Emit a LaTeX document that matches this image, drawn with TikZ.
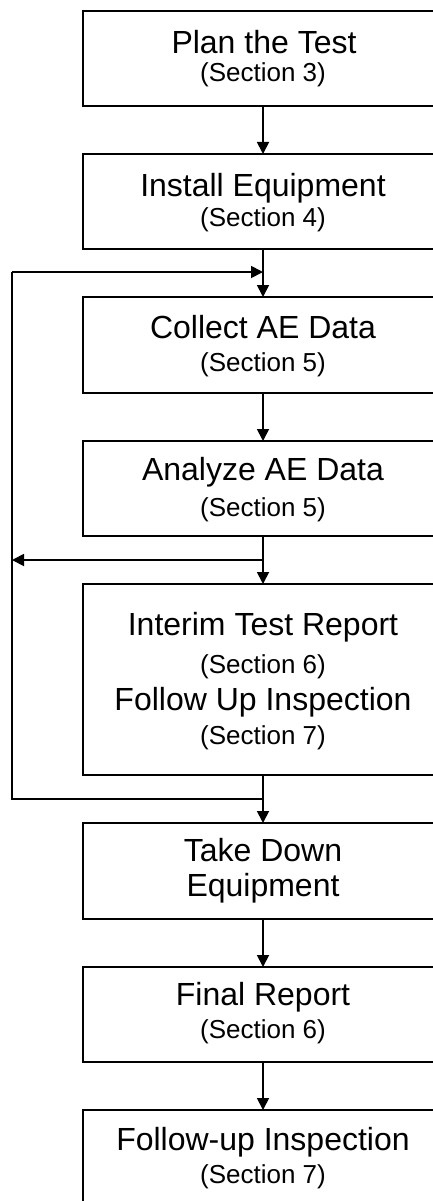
\documentclass[tikz,border=0pt]{standalone}
\usepackage{fontspec}
\setmainfont{Liberation Sans}
\usetikzlibrary{arrows.meta}
\begin{document}
\begin{tikzpicture}[x=1pt,y=-1pt,
  stepbox/.style={draw, line width=1.8pt, minimum width=360pt, inner sep=0pt, outer sep=0pt},
  maintext/.style={anchor=base, inner sep=0pt, font=\fontsize{32}{32}\selectfont},
  sectext/.style={anchor=base, inner sep=0pt, font=\fontsize{26}{26}\selectfont},
  flow/.style={line width=1.8pt, -{Triangle[length=12pt,width=12pt]}},
  loopline/.style={line width=1.8pt}]
\path[use as bounding box, fill=white] (0,0) rectangle (433,1201);
\clip (0,0) rectangle (433,1201);

% boxes
\node[stepbox, minimum height=95pt]  (b1) at (263,58.5) {};
\node[stepbox, minimum height=95pt]  (b2) at (263,201.5) {};
\node[stepbox, minimum height=96pt]  (b3) at (263,345) {};
\node[stepbox, minimum height=95pt]  (b4) at (263,488.5) {};
\node[stepbox, minimum height=191pt] (b5) at (263,679.5) {};
\node[stepbox, minimum height=96pt]  (b6) at (263,871) {};
\node[stepbox, minimum height=95pt]  (b7) at (263,1014.5) {};
\node[stepbox, minimum height=100pt] (b8) at (263,1160) {};

% texts
\node[maintext] (t1a) at (264,53.3) {Plan the Test};
\node[sectext]  (t1b) at (263,81.3) {(Section 3)};
\node[maintext] (t2a) at (263,196.7) {Install Equipment};
\node[sectext]  (t2b) at (263,226.7) {(Section 4)};
\node[maintext] (t3a) at (263,338.3) {Collect AE Data};
\node[sectext]  (t3b) at (263,371.7) {(Section 5)};
\node[maintext] (t4a) at (263,480) {Analyze AE Data};
\node[sectext]  (t4b) at (263,516.7) {(Section 5)};
\node[maintext] (t5a) at (263,635) {Interim Test Report};
\node[sectext]  (t5b) at (263,673.3) {(Section 6)};
\node[maintext] (t5c) at (263,710.7) {Follow Up Inspection};
\node[sectext]  (t5d) at (263,744) {(Section 7)};
\node[maintext] (t6a) at (263,861.7) {Take Down};
\node[maintext] (t6b) at (263,896.7) {Equipment};
\node[maintext] (t7a) at (263,1005) {Final Report};
\node[sectext]  (t7b) at (263,1038.3) {(Section 6)};
\node[maintext] (t8a) at (263,1150) {Follow-up Inspection};
\node[sectext]  (t8b) at (263,1183.3) {(Section 7)};

% loop coordinates
\coordinate (jin) at (263,272);
\coordinate (lin) at (12,272);
\coordinate (jm)  at (263,560);
\coordinate (lm)  at (12,560);
\coordinate (jb)  at (263,799);
\coordinate (lb)  at (12,799);

% main flow
\draw[flow] (b1.south) -- (b2.north);
\draw[flow] (b2.south) -- (b3.north);
\draw[flow] (b3.south) -- (b4.north);
\draw[flow] (b4.south) -- (b5.north);
\draw[flow] (b5.south) -- (b6.north);
\draw[flow] (b6.south) -- (b7.north);
\draw[flow] (b7.south) -- (b8.north);

% feedback loop
\draw[loopline, line join=miter] (jb) -- (lb) -- (lin);
\draw[flow] (lin) -- (jin);
\draw[flow] (jm) -- (lm);
\end{tikzpicture}
\end{document}
